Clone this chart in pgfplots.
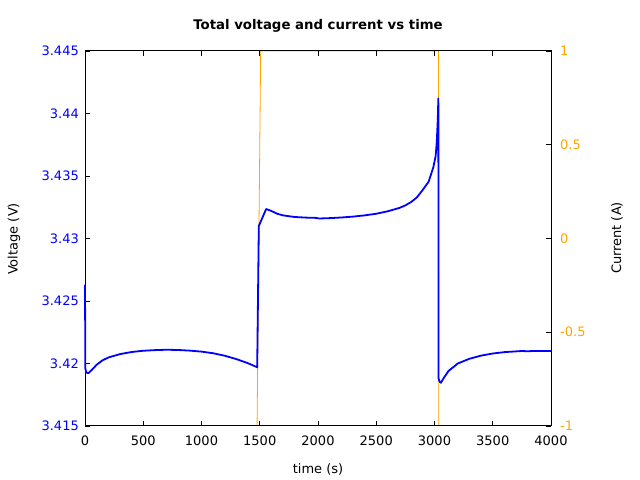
\documentclass[border=0pt]{standalone}
\usepackage{pgfplots}
\pgfplotsset{compat=1.18}
\usepackage{fontspec}
\setmainfont{DejaVu Sans}
\definecolor{gpblue}{RGB}{0,0,255}
\definecolor{gporange}{RGB}{255,165,0}
\begin{document}
\fontsize{13bp}{15bp}\selectfont
\begin{tikzpicture}
\path[use as bounding box] (0,0) rectangle (640bp,480bp);
\pgfplotsset{
  every axis/.append style={
    scale only axis, width=466bp, height=375bp,
    at={(85bp,54bp)}, anchor=south west,
    xmin=0, xmax=4000,
    tick align=inside, major tick length=5bp,
    every tick/.style={black, line width=0.9bp},
    /pgf/number format/assume math mode=true,
    /pgf/number format/1000 sep={},
    tick label style={font=\fontsize{13bp}{15bp}\selectfont},
  }
}
% current axis (drawn first)
\begin{axis}[
  axis x line=none, axis y line*=right,
  ymin=-1, ymax=1, ytick={-1,-0.5,0,0.5,1},
  ytick pos=right,
  axis line style={black, line width=1bp},
  yticklabel style={gporange, anchor=west, inner sep=0pt, xshift=9bp},
]
\addplot[gporange, line width=0.8bp] coordinates {
(0,-1) (1477,-1) (1508,1) (3034,1) (3036,-1) (4000,-1)
};
\end{axis}
% voltage axis frame
\begin{axis}[
  axis on top,
  ymin=3.415, ymax=3.445,
  ytick={3.415,3.42,3.425,3.43,3.435,3.44,3.445},
  xtick={0,500,1000,1500,2000,2500,3000,3500,4000},
  xtick pos=both, ytick pos=left,
  axis line style={black, line width=1bp},
  /pgf/number format/precision=3,
  yticklabel style={gpblue, anchor=east, inner sep=0pt, xshift=-6bp},
  xticklabel style={black, anchor=north, inner sep=0pt, yshift=-10bp},
]
\end{axis}
% voltage data, drawn over the frame
\begin{axis}[
  hide axis, clip=false,
  ymin=3.415, ymax=3.445,
]
\addplot[gpblue, line width=1.8bp, line join=round] coordinates {
(0,3.4263) (3,3.4196) (10,3.4193) (28,3.41922) (60,3.4195) (100,3.4199)
(150,3.42025) (200,3.42048) (300,3.42075) (400,3.42092) (500,3.42102)
(600,3.42107) (700,3.4211) (800,3.42108) (900,3.42103) (1000,3.42095)
(1100,3.42082) (1200,3.42062) (1300,3.42035) (1400,3.42002) (1478,3.4197)
(1492,3.4310) (1555,3.43236) (1600,3.4322) (1650,3.43198) (1700,3.43185)
(1800,3.43172) (1900,3.43167) (1980,3.43165) (2010,3.4316) (2100,3.43163)
(2200,3.43168) (2300,3.43175) (2400,3.43185) (2500,3.43198) (2600,3.43218)
(2700,3.43245) (2750,3.43265) (2800,3.43292) (2850,3.4333) (2900,3.4339)
(2950,3.43455) (2990,3.4357) (3010,3.4366) (3020,3.4378) (3028,3.4395)
(3033,3.4412) (3035,3.4188) (3045,3.41852) (3055,3.41846) (3080,3.41885)
(3120,3.4194) (3200,3.42) (3300,3.42038) (3400,3.42063) (3500,3.4208)
(3600,3.42091) (3700,3.42097) (3750,3.421) (3800,3.42098) (3850,3.421)
(4000,3.421)
};
\end{axis}
\node[font=\bfseries\fontsize{13.3bp}{15bp}\selectfont] at (318bp,454bp) {Total voltage and current vs time};
\node at (318bp,11bp) {time (s)};
\node[rotate=90] at (14bp,241bp) {Voltage (V)};
\node[rotate=90] at (617bp,242bp) {Current (A)};
\end{tikzpicture}
\end{document}
